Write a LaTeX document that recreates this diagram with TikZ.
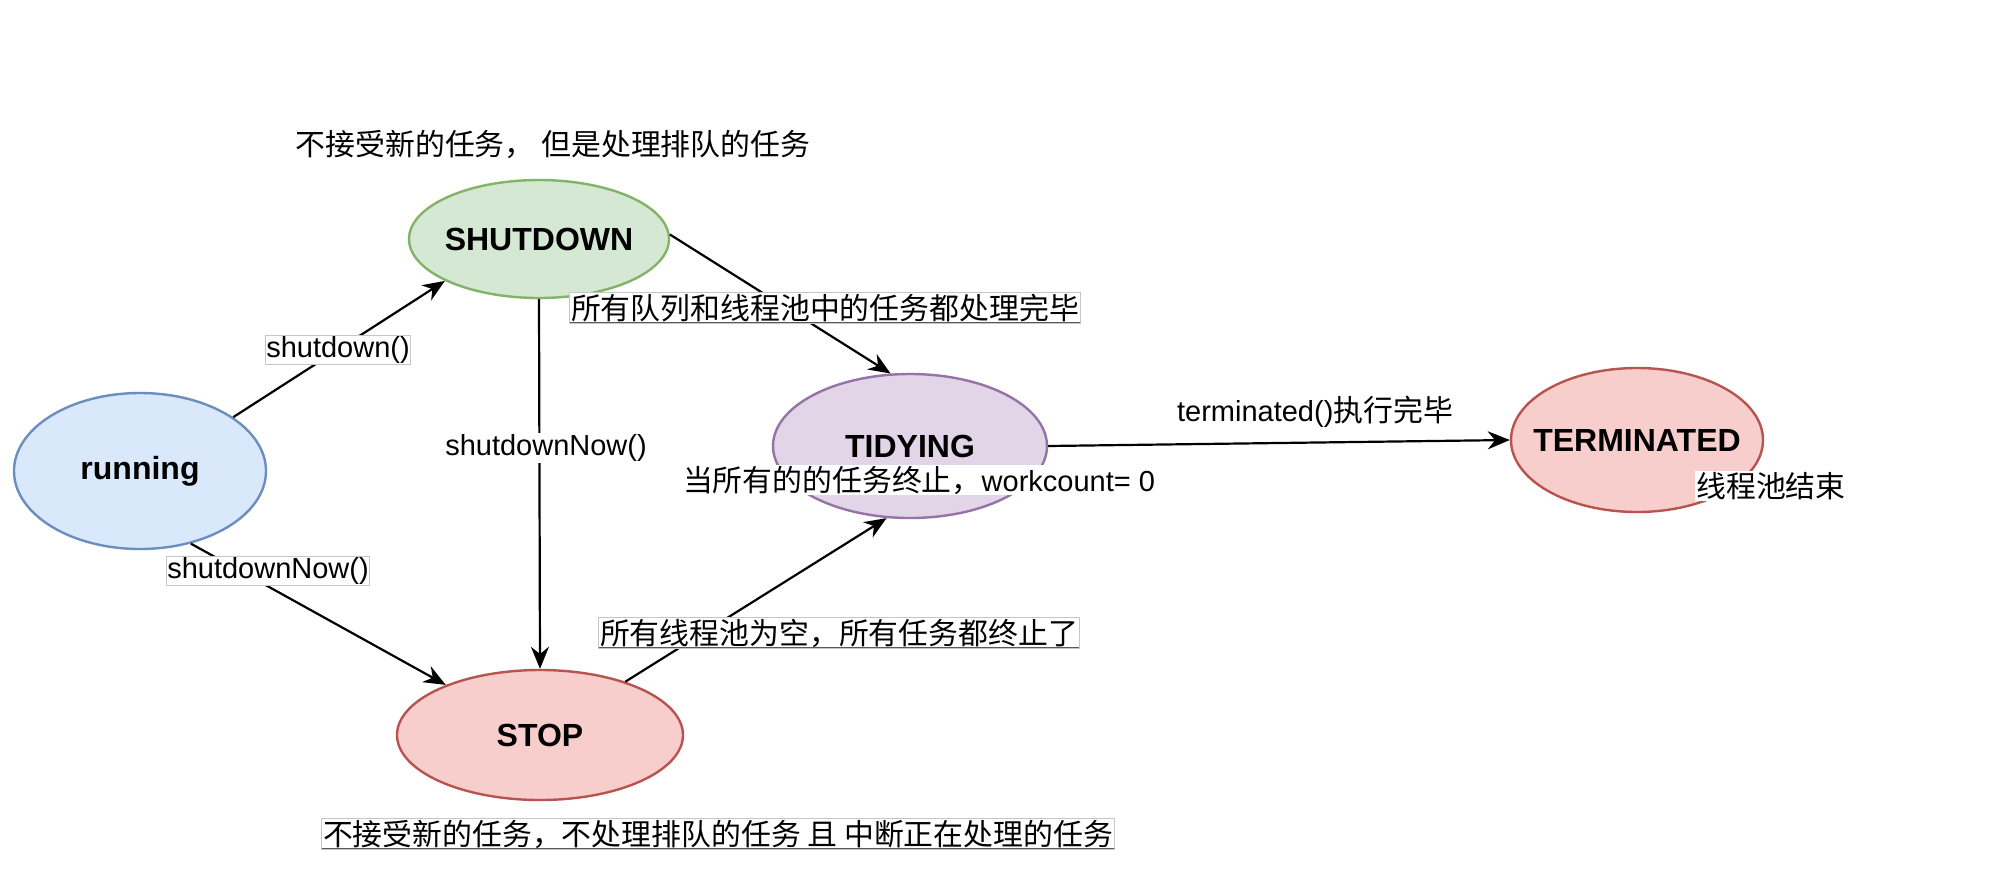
\documentclass[tikz,border=0pt]{standalone}
\usepackage{fontspec}
\setmainfont{Liberation Sans}
\newfontfamily\cjk[Scale=1.03]{Noto Sans CJK SC}
\usepackage{xcolor}
\usetikzlibrary{arrows.meta,shapes.geometric}
\definecolor{azulF}{HTML}{DAE8FC}\definecolor{azulB}{HTML}{6C8EBF}
\definecolor{verdeF}{HTML}{D5E8D4}\definecolor{verdeB}{HTML}{82B366}
\definecolor{moradoF}{HTML}{E1D5E7}\definecolor{moradoB}{HTML}{9673A6}
\definecolor{rojoF}{HTML}{F8CECC}\definecolor{rojoB}{HTML}{B85450}
\tikzset{
  estado/.style={ellipse,line width=1.2pt,inner sep=0pt,
    label={[font=\fontsize{16}{19}\selectfont\bfseries]center:#1}},
  azul/.style={fill=azulF,draw=azulB},
  verde/.style={fill=verdeF,draw=verdeB},
  morado/.style={fill=moradoF,draw=moradoB},
  rojo/.style={fill=rojoF,draw=rojoB},
  etq/.style={font=\fontsize{14.5}{17}\selectfont,inner sep=0.6pt},
  fondo/.style={etq,fill=white},
  caja/.style={fondo,draw=gray!45,line width=0.5pt,
    path picture={\draw[gray!70!black,line width=1.2pt]
      (path picture bounding box.south west) -- (path picture bounding box.south east);}},
  flecha/.style={-{Stealth[length=11pt,width=9pt]},line width=1.1pt}
}
\begin{document}
\begin{tikzpicture}[x=0.5pt,y=-0.5pt]
\useasboundingbox (0,0) rectangle (2002,884);
% estados
\node[estado=running,azul,minimum width=126pt,minimum height=78pt] (run) at (140,471) {};
\node[estado=SHUTDOWN,verde,minimum width=130pt,minimum height=59pt] (shut) at (539,239) {};
\node[estado=TIDYING,morado,minimum width=137pt,minimum height=72pt] (tidy) at (910,446) {};
\node[estado=STOP,rojo,minimum width=143pt,minimum height=65pt] (stop) at (540,735) {};
\node[estado=TERMINATED,rojo,minimum width=126pt,minimum height=72pt] (term) at (1637,440) {};
% transiciones
\draw[flecha] (run.30) -- (shut.204);
\draw[flecha] (run.-55) -- (stop.152);
\draw[flecha] (shut.south) -- (stop.north);
\draw[flecha] (shut.2) -- (tidy.105);
\draw[flecha] (stop.32) -- (tidy.-108);
\draw[flecha] (tidy.east) -- (term.west);
% etiquetas
\node[caja] (l1) at (338,350) {shutdown()};
\node[caja] (l2) at (268,571) {shutdownNow()};
\node[fondo] (l3) at (546,448) {shutdownNow()};
\node[caja] (l4) at (825,308) {\cjk 所有队列和线程池中的任务都处理完毕};
\node[caja] (l5) at (839,633) {\cjk 所有线程池为空，所有任务都终止了};
\node[etq] (l6) at (1315,412) {terminated(){\cjk 执行完毕}};
\node[fondo] (l7) at (919,480) {{\cjk 当所有的的任务终止，}workcount= 0};
\node[fondo] (l8) at (1771,486) {\cjk 线程池结束};
\node[etq] (l9) at (553,144) {\cjk 不接受新的任务， 但是处理排队的任务};
\node[caja] (l10) at (718,834) {\cjk 不接受新的任务，不处理排队的任务 且 中断正在处理的任务};
\end{tikzpicture}
\end{document}
